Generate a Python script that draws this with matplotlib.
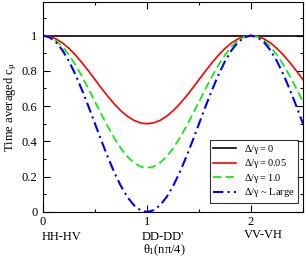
import matplotlib
matplotlib.use("Agg")
from matplotlib import pyplot as plt
from matplotlib.ticker import MultipleLocator
from matplotlib.transforms import blended_transform_factory

plt.rcParams["font.family"] = ["Liberation Serif", "DejaVu Serif"]
plt.rcParams["mathtext.fontset"] = "custom"
plt.rcParams["mathtext.rm"] = "Liberation Serif"
plt.rcParams["mathtext.it"] = "Liberation Serif"

# theta_1 in units of n*pi/4, read every 1/16
theta = [i / 16 for i in range(41)]

c_zero = [1.0] * 41
c_005 = [1.0, 0.995, 0.981, 0.958, 0.927, 0.889, 0.846, 0.799, 0.75,
         0.701, 0.654, 0.611, 0.573, 0.542, 0.519, 0.505, 0.50,
         0.505, 0.519, 0.542, 0.573, 0.611, 0.654, 0.701, 0.75,
         0.799, 0.846, 0.889, 0.927, 0.958, 0.981, 0.995, 1.0,
         0.995, 0.981, 0.958, 0.927, 0.889, 0.846, 0.799, 0.75]
c_10 = [1.0, 0.993, 0.971, 0.937, 0.890, 0.833, 0.768, 0.698, 0.625,
        0.552, 0.482, 0.417, 0.360, 0.313, 0.279, 0.257, 0.25,
        0.257, 0.279, 0.313, 0.360, 0.417, 0.482, 0.552, 0.625,
        0.698, 0.768, 0.833, 0.890, 0.937, 0.971, 0.993, 1.0,
        0.993, 0.971, 0.937, 0.890, 0.833, 0.768, 0.698, 0.625]
c_large = [1.0, 0.990, 0.962, 0.916, 0.854, 0.778, 0.691, 0.598, 0.50,
           0.402, 0.309, 0.222, 0.146, 0.084, 0.038, 0.010, 0.0,
           0.010, 0.038, 0.084, 0.146, 0.222, 0.309, 0.402, 0.50,
           0.598, 0.691, 0.778, 0.854, 0.916, 0.962, 0.990, 1.0,
           0.990, 0.962, 0.916, 0.854, 0.778, 0.691, 0.598, 0.50]

labels = [r"$\Delta/\gamma = 0$", r"$\Delta/\gamma = 0.05$",
          r"$\Delta/\gamma = 1.0$", r"$\Delta/\gamma$ ~ Large"]
xticks = [0, 1, 2]
xtick_numbers = ["0", "1", "2"]
xtick_names = ["HH-HV", "DD-DD'", "VV-VH"]

fig = plt.figure(figsize=(3.05, 2.62), dpi=100)
ax = fig.add_axes([43 / 305, 50 / 262, 260 / 305, 210 / 262])

ax.plot(theta, c_zero, color="black", lw=1.2, label=labels[0])
ax.plot(theta, c_005, color="red", lw=1.2, label=labels[1])
ax.plot(theta, c_10, color="#00ee00", lw=1.2, ls=(0, (5, 2.5)), label=labels[2])
ax.plot(theta, c_large, color="blue", lw=1.5, ls=(0, (5, 2, 1, 2)), label=labels[3])

ax.set_xlim(0, 2.5)
ax.set_ylim(0, 1.19)
ax.set_xticks(xticks)
ax.set_xticklabels(xtick_numbers, fontsize=9)
ax.xaxis.set_minor_locator(MultipleLocator(0.5))
ax.set_yticks([0, 0.2, 0.4, 0.6, 0.8, 1.0])
ax.set_yticklabels(["0", "0.2", "0.4", "0.6", "0.8", "1"], fontsize=9)
ax.yaxis.set_minor_locator(MultipleLocator(0.1))
ax.tick_params(which="both", direction="in", top=True, right=True, width=0.8)
ax.tick_params(which="major", length=5)
ax.tick_params(axis="x", which="major", pad=3)
ax.tick_params(axis="y", which="major", pad=4)
ax.tick_params(which="minor", length=2.5)

# configuration names sit a little right of their ticks, as in the original
trans = blended_transform_factory(ax.transData, ax.transAxes)
name_offsets = [(0.18, -0.119), (0.15, -0.119), (0.12, -0.108)]
for tick, name, (dx, y) in zip(xticks, xtick_names, name_offsets):
    ax.text(tick + dx, y, name, transform=trans, fontsize=9,
            ha="center", va="center")

ax.text(0.465, -0.183, r"$\theta_1$(n$\pi$/4)", transform=ax.transAxes,
        fontsize=9, ha="center", va="center")
ax.set_ylabel(r"Time averaged c$_\mu$", fontsize=9, labelpad=2)

leg = ax.legend(loc="lower right", bbox_to_anchor=(0.98, 0.045),
                fontsize=7.5, frameon=True, fancybox=False,
                edgecolor="black", handlelength=2.2, borderaxespad=0.0,
                labelspacing=0.15, borderpad=0.3, handletextpad=0.8)
leg.get_frame().set_linewidth(0.8)

fig.savefig("out.png", dpi=100)
